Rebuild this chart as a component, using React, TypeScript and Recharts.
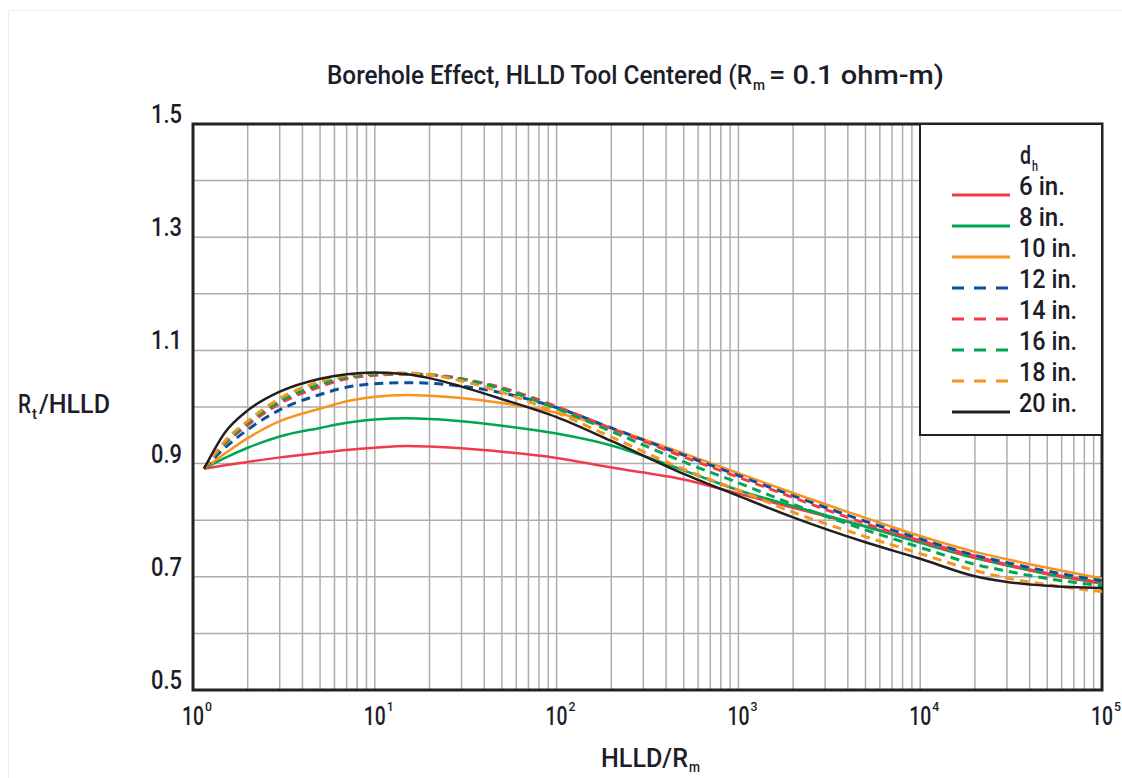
import React from "react";
import { LineChart, Line, XAxis, YAxis, CartesianGrid, ReferenceArea } from "recharts";

const xValues = [1.15, 1.5, 2, 3, 5, 7, 10, 15, 20, 30, 50, 100, 200, 500, 1000, 2000, 5000, 10000, 20000, 30000, 50000, 100000];

const d6 = [0.891, 0.897, 0.903, 0.911, 0.919, 0.924, 0.928, 0.931, 0.930, 0.927, 0.921, 0.910, 0.893, 0.872, 0.847, 0.822, 0.789, 0.764, 0.737, 0.722, 0.705, 0.688];
const d8 = [0.891, 0.910, 0.928, 0.948, 0.963, 0.972, 0.978, 0.980, 0.979, 0.975, 0.967, 0.953, 0.932, 0.888, 0.853, 0.825, 0.789, 0.760, 0.733, 0.720, 0.705, 0.690];
const d10 = [0.891, 0.918, 0.945, 0.975, 0.997, 1.010, 1.018, 1.021, 1.020, 1.016, 1.007, 0.990, 0.962, 0.918, 0.883, 0.848, 0.804, 0.772, 0.744, 0.731, 0.716, 0.697];
const d12 = [0.891, 0.928, 0.960, 0.995, 1.022, 1.035, 1.041, 1.043, 1.042, 1.037, 1.025, 0.999, 0.963, 0.915, 0.879, 0.843, 0.798, 0.767, 0.738, 0.725, 0.710, 0.693];
const d14 = [0.891, 0.935, 0.968, 1.006, 1.036, 1.050, 1.056, 1.058, 1.057, 1.050, 1.034, 1.001, 0.962, 0.912, 0.876, 0.840, 0.794, 0.763, 0.734, 0.721, 0.706, 0.689];
const d16 = [0.891, 0.937, 0.972, 1.010, 1.040, 1.053, 1.058, 1.059, 1.057, 1.049, 1.032, 0.997, 0.957, 0.903, 0.866, 0.828, 0.783, 0.752, 0.722, 0.710, 0.697, 0.684];
const d18 = [0.891, 0.940, 0.975, 1.015, 1.045, 1.056, 1.060, 1.060, 1.057, 1.046, 1.026, 0.990, 0.947, 0.890, 0.853, 0.814, 0.771, 0.741, 0.711, 0.698, 0.686, 0.674];
const d20 = [0.891, 0.955, 0.994, 1.027, 1.050, 1.058, 1.061, 1.058, 1.051, 1.036, 1.014, 0.982, 0.940, 0.882, 0.843, 0.805, 0.761, 0.732, 0.701, 0.691, 0.684, 0.680];

const seriesNames = ["6 in.", "8 in.", "10 in.", "12 in.", "14 in.", "16 in.", "18 in.", "20 in."];
const seriesKeys = ["d6", "d8", "d10", "d12", "d14", "d16", "d18", "d20"];
const seriesValues = [d6, d8, d10, d12, d14, d16, d18, d20];
const seriesColors = ["#ef3b4a", "#00a651", "#f7941d", "#0b4f9c", "#ef3b4a", "#00a651", "#f7941d", "#231f20"];
const seriesDashed = [false, false, false, true, true, true, true, false];

const yTicks = [0.5, 0.6, 0.7, 0.8, 0.9, 1.0, 1.1, 1.2, 1.3, 1.4, 1.5];
const xTicks: number[] = [];
for (let e = 0; e < 5; e++) {
  for (let m = 1; m <= 9; m++) xTicks.push(m * Math.pow(10, e));
}
xTicks.push(100000);

const data = xValues.map((x, i) => {
  const row: Record<string, number> = { x };
  seriesKeys.forEach((k, s) => {
    row[k] = seriesValues[s][i];
  });
  return row;
});

const FONT = "Roboto, 'Liberation Sans', Arial, sans-serif";
const TEXT = "#1c1c2a";

type Seg = { x: number; y: number; w: number; size: number; t: string };

const MT = ({ segs }: { segs: Seg[] }) => (
  <text fontFamily={FONT} fontWeight={500} fill={TEXT}>
    {segs.map((s, i) => (
      <tspan key={i} x={s.x} y={s.y} fontSize={s.size} textLength={s.w} lengthAdjust="spacingAndGlyphs">
        {s.t}
      </tspan>
    ))}
  </text>
);

const T = (p: { x: number; y: number; w: number; size: number; children: string }) => (
  <text x={p.x} y={p.y} fontFamily={FONT} fontWeight={500} fontSize={p.size} fill={TEXT} textLength={p.w} lengthAdjust="spacingAndGlyphs">
    {p.children}
  </text>
);

const XTick = (props: any) => {
  const { x, y, payload } = props;
  const v = payload.value;
  const e = Math.round(Math.log10(v));
  if (Math.abs(Math.pow(10, e) - v) > 1e-6 * v) return null;
  return (
    <MT
      segs={[
        { x: x - 11, y: y + 35, w: 22, size: 26, t: "10" },
        { x: x + 12, y: y + 21, w: 7, size: 13, t: String(e) },
      ]}
    />
  );
};

const YTick = (props: any) => {
  const { x, y, payload } = props;
  const v = payload.value;
  const n = Math.round(v * 10);
  if (n % 2 === 0) return null;
  return (
    <T x={x - 42} y={y - 1} w={31} size={26}>
      {v.toFixed(1)}
    </T>
  );
};

const LegendBox = () => (
  <svg width={184} height={314} style={{ position: "absolute", left: 919, top: 123 }}>
    <g transform="translate(-919,-123)">
      <rect x={920} y={124} width={182} height={311} fill="#fff" stroke="#222" strokeWidth={2} />
      <MT
        segs={[
          { x: 1020, y: 164, w: 11, size: 26, t: "d" },
          { x: 1032, y: 171, w: 6, size: 14, t: "h" },
        ]}
      />
      {seriesNames.map((name, i) => {
        const by = 195 + i * 31;
        return (
          <g key={name}>
            <line
              x1={952}
              x2={1010}
              y1={by}
              y2={by}
              stroke={seriesColors[i]}
              strokeWidth={3}
              strokeDasharray={seriesDashed[i] ? "12 10" : undefined}
            />
            <T x={1019} y={by} w={name.length > 5 ? 58 : 46} size={26}>
              {name}
            </T>
          </g>
        );
      })}
    </g>
  </svg>
);

const Overlay = () => (
  <svg width={1122} height={778} style={{ position: "absolute", left: 0, top: 0, pointerEvents: "none" }}>
    <MT
      segs={[
        { x: 327, y: 84, w: 425, size: 26, t: "Borehole Effect, HLLD Tool Centered (R" },
        { x: 753, y: 90, w: 12, size: 14, t: "m" },
        { x: 769, y: 84, w: 175, size: 26, t: "= 0.1 ohm-m)" },
      ]}
    />
    <MT
      segs={[
        { x: 18, y: 413, w: 13, size: 26, t: "R" },
        { x: 32, y: 419, w: 5, size: 14, t: "t" },
        { x: 39, y: 413, w: 71, size: 26, t: "/HLLD" },
      ]}
    />
    <MT
      segs={[
        { x: 601, y: 767, w: 87, size: 26, t: "HLLD/R" },
        { x: 689, y: 772, w: 11, size: 14, t: "m" },
      ]}
    />
  </svg>
);

export default function App() {
  return (
    <div style={{ position: "absolute", left: 0, top: 0, width: 1122, height: 778, background: "#fff", overflow: "hidden" }}>
      <div style={{ position: "absolute", left: 8, top: 10, width: 1200, height: 900, borderTop: "1px solid #eeeeee", borderLeft: "1px solid #eeeeee" }} />
      <LineChart width={1122} height={778} data={data} margin={{ top: 124, right: 20, bottom: 58, left: 113 }}>
        <CartesianGrid stroke="#adadad" strokeWidth={1.5} />
        <XAxis
          dataKey="x"
          type="number"
          scale="log"
          domain={[1, 100000]}
          ticks={xTicks}
          interval={0}
          allowDataOverflow
          tick={<XTick />}
          tickLine={false}
          axisLine={false}
          tickSize={0}
          tickMargin={0}
          height={30}
        />
        <YAxis
          type="number"
          domain={[0.5, 1.5]}
          ticks={yTicks}
          interval={0}
          allowDataOverflow
          tick={<YTick />}
          tickLine={false}
          axisLine={false}
          tickSize={0}
          tickMargin={0}
          width={80}
        />
        {seriesKeys.map((k, i) => (
          <Line
            key={k}
            dataKey={k}
            name={seriesNames[i]}
            type="monotone"
            stroke={seriesColors[i]}
            strokeWidth={seriesDashed[i] ? 3 : 2.5}
            strokeDasharray={seriesDashed[i] ? "9 6" : undefined}
            dot={false}
            activeDot={false}
            isAnimationActive={false}
          />
        ))}
        <ReferenceArea x1={1} x2={100000} y1={0.5} y2={1.5} fill="none" fillOpacity={0} stroke="#222" strokeWidth={3} ifOverflow="visible" />
      </LineChart>
      <LegendBox />
      <Overlay />
    </div>
  );
}
